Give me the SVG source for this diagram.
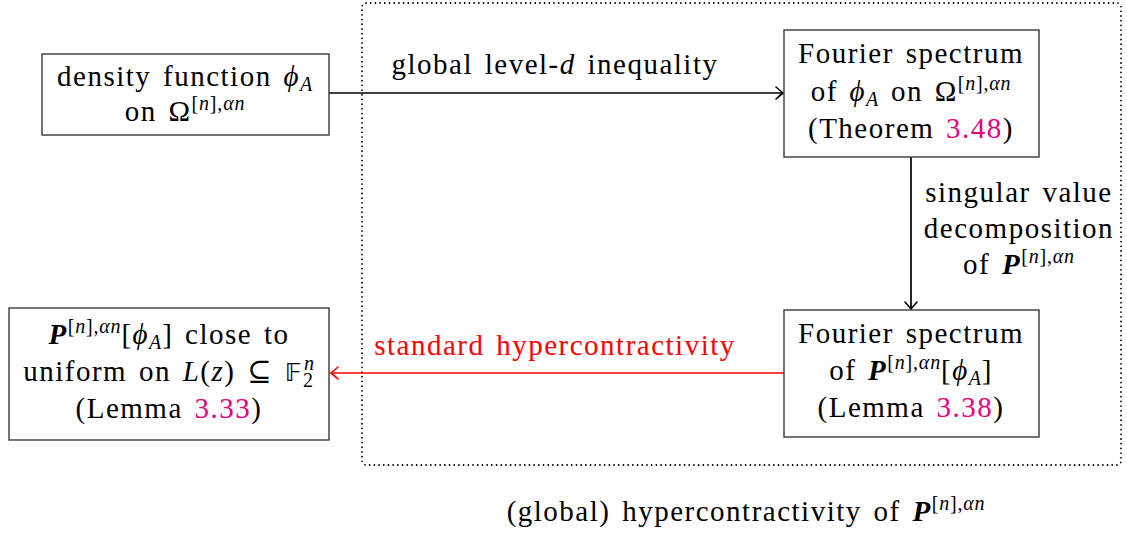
<svg xmlns="http://www.w3.org/2000/svg" width="1127" height="533" viewBox="0 0 1127 533">
<style>
  text { font-family: 'Liberation Serif', 'Times New Roman', 'DejaVu Serif', serif; font-size: 29px; fill: #000; letter-spacing: 1.5px; word-spacing: 3px; }
  .box { fill: #fff; stroke: #3a3a3a; stroke-width: 1.4; }
  .it { font-style: italic; }
  .bi { font-style: italic; font-weight: bold; }
  .s { font-size: 20px; letter-spacing: 0.8px; }
  .ref { fill: #e6007e; }
  .red { fill: #ff0000; }
  .bb { font-family: 'DejaVu Sans', sans-serif; font-size: 25px; }
  .conn { fill: none; stroke-width: 1.7; }
  .dots { fill: none; stroke: #000; stroke-width: 1.8; stroke-linecap: round; stroke-dasharray: 0 4.7; }
</style>
<defs>
  <marker id="ahk" viewBox="-10 -8 12 16" refX="0" refY="0" markerWidth="12" markerHeight="16" markerUnits="userSpaceOnUse" orient="auto">
    <path d="M-7,-6 Q-2,-1.5 0,0 Q-2,1.5 -7,6" fill="none" stroke="#000" stroke-width="1.6" stroke-linecap="round"/>
  </marker>
  <marker id="ahr" viewBox="-10 -8 12 16" refX="0" refY="0" markerWidth="12" markerHeight="16" markerUnits="userSpaceOnUse" orient="auto">
    <path d="M-7,-6 Q-2,-1.5 0,0 Q-2,1.5 -7,6" fill="none" stroke="#ff0000" stroke-width="1.6" stroke-linecap="round"/>
  </marker>
</defs>

<g id="region-global">
  <rect class="dots" x="362" y="3" width="759" height="462" rx="4"/>
  <text x="746" y="521" text-anchor="middle">(global) hypercontractivity of <tspan class="bi">P</tspan><tspan class="s" dy="-11">[<tspan class="it">n</tspan>],<tspan class="it">αn</tspan></tspan></text>
</g>

<g id="connectors">
  <line class="conn" x1="329" y1="93" x2="783" y2="93" stroke="#000" marker-end="url(#ahk)"/>
  <text x="555" y="74" text-anchor="middle">global level-<tspan class="it">d</tspan> inequality</text>

  <line class="conn" x1="911" y1="157" x2="911" y2="309" stroke="#000" marker-end="url(#ahk)"/>
  <text x="1019" y="202" text-anchor="middle">singular value</text>
  <text x="1019" y="238" text-anchor="middle">decomposition</text>
  <text x="1019" y="274" text-anchor="middle">of <tspan class="bi">P</tspan><tspan class="s" dy="-11">[<tspan class="it">n</tspan>],<tspan class="it">αn</tspan></tspan></text>

  <line class="conn" x1="784" y1="373" x2="331" y2="373" stroke="#ff0000" marker-end="url(#ahr)"/>
  <text class="red" x="555" y="355" text-anchor="middle">standard hypercontractivity</text>
</g>

<g id="node-density">
  <rect class="box" x="42" y="54" width="287" height="81"/>
  <text x="185" y="86" text-anchor="middle">density function <tspan class="it">ϕ</tspan><tspan class="s it" dy="5">A</tspan></text>
  <text x="185" y="121" text-anchor="middle">on Ω<tspan class="s" dy="-11">[<tspan class="it">n</tspan>],<tspan class="it">αn</tspan></tspan></text>
</g>

<g id="node-fourier-omega">
  <rect class="box" x="784" y="30" width="255" height="127"/>
  <text x="911" y="63" text-anchor="middle">Fourier spectrum</text>
  <text x="911" y="101" text-anchor="middle">of <tspan class="it">ϕ</tspan><tspan class="s it" dy="5">A</tspan><tspan dy="-5"> on Ω</tspan><tspan class="s" dy="-11">[<tspan class="it">n</tspan>],<tspan class="it">αn</tspan></tspan></text>
  <text x="911" y="138" text-anchor="middle">(Theorem <tspan class="ref">3.48</tspan>)</text>
</g>

<g id="node-fourier-P">
  <rect class="box" x="784" y="310" width="255" height="127"/>
  <text x="911" y="343" text-anchor="middle">Fourier spectrum</text>
  <text x="911" y="380" text-anchor="middle">of <tspan class="bi">P</tspan><tspan class="s" dy="-11">[<tspan class="it">n</tspan>],<tspan class="it">αn</tspan></tspan><tspan dy="11">[</tspan><tspan class="it">ϕ</tspan><tspan class="s it" dy="5">A</tspan><tspan dy="-5">]</tspan></text>
  <text x="911" y="417" text-anchor="middle">(Lemma <tspan class="ref">3.38</tspan>)</text>
</g>

<g id="node-uniform">
  <rect class="box" x="9" y="308" width="320" height="132"/>
  <text x="169" y="344" text-anchor="middle"><tspan class="bi">P</tspan><tspan class="s" dy="-11">[<tspan class="it">n</tspan>],<tspan class="it">αn</tspan></tspan><tspan dy="11">[</tspan><tspan class="it">ϕ</tspan><tspan class="s it" dy="5">A</tspan><tspan dy="-5">] close to</tspan></text>
  <text x="169" y="381" text-anchor="middle">uniform on <tspan class="it">L</tspan>(<tspan class="it">z</tspan>) ⊆ <tspan class="bb">𝔽</tspan><tspan class="s" dy="6">2</tspan><tspan class="s it" dx="-10" dy="-17">n</tspan></text>
  <text x="169" y="418" text-anchor="middle">(Lemma <tspan class="ref">3.33</tspan>)</text>
</g>
</svg>
